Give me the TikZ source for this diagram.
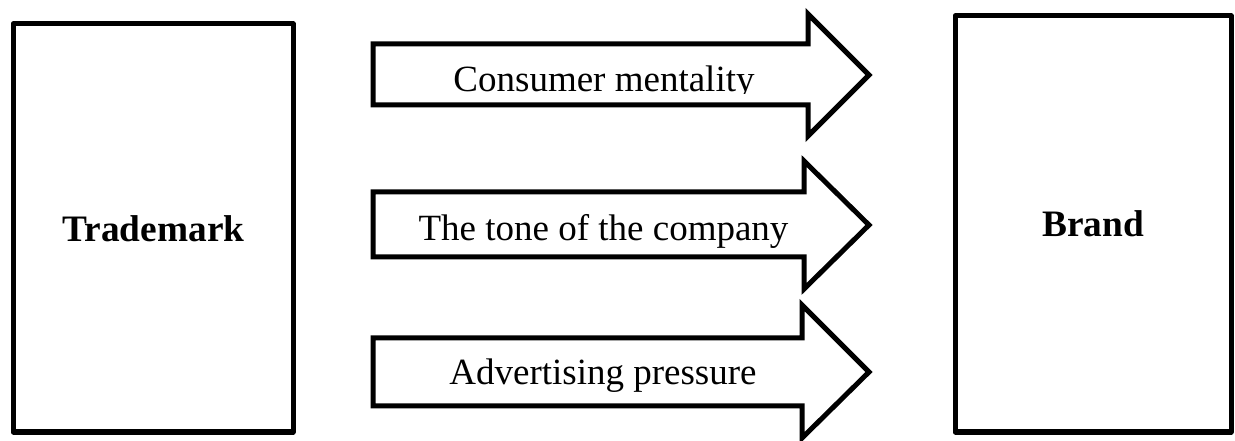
\documentclass[tikz,border=0pt]{standalone}
\usepackage{fontspec}
\setmainfont{Liberation Serif}
\usetikzlibrary{positioning}
\tikzset{
  outline/.style={draw=black,line width=3.75pt,line join=miter},
  boxoutline/.style={outline,line join=round},
  lbl/.style={inner sep=0pt,anchor=base,font=\fontsize{27.75}{32}\selectfont},
  boldlbl/.style={lbl,font=\fontsize{28}{32}\selectfont\bfseries}
}
\begin{document}
\begin{tikzpicture}[x=0.75pt,y=0.75pt,yscale=-1,xscale=1]
\useasboundingbox (0,0) rectangle (1235,441);

%Shape: Rectangle
\draw [boxoutline] (13,24) rectangle (293,432);
%Shape: Rectangle
\draw [boxoutline] (955,16) rectangle (1231,432);

%Shape: Right Arrow
\draw [outline] (373,44) -- (808,44) -- (808,14) -- (869,75) -- (808,136) -- (808,105) -- (373,105) -- cycle;
%Shape: Right Arrow
\draw [outline] (373,192) -- (804,192) -- (804,161) -- (869,225) -- (804,289) -- (804,257) -- (373,257) -- cycle;
%Shape: Right Arrow
\draw [outline] (373,338) -- (802,338) -- (802,305) -- (869,372) -- (802,438) -- (802,406) -- (373,406) -- cycle;

% Text Node
\node [boldlbl] (trademark) at (153.5,242) {Trademark};
% Text Node
\node [boldlbl] (brand) at (1093,237) {Brand};
% Text Node (bottom of the letters is cut off)
\begin{scope}
\clip (373,44) rectangle (808,94);
\node [lbl] (consumer) at (604,92) {Consumer mentality};
\end{scope}
% Text Node
\node [lbl] (tone) at (603.5,240.5) {The tone of the company};
% Text Node
\node [lbl] (advertising) at (603,385) {Advertising pressure};

\end{tikzpicture}
\end{document}
